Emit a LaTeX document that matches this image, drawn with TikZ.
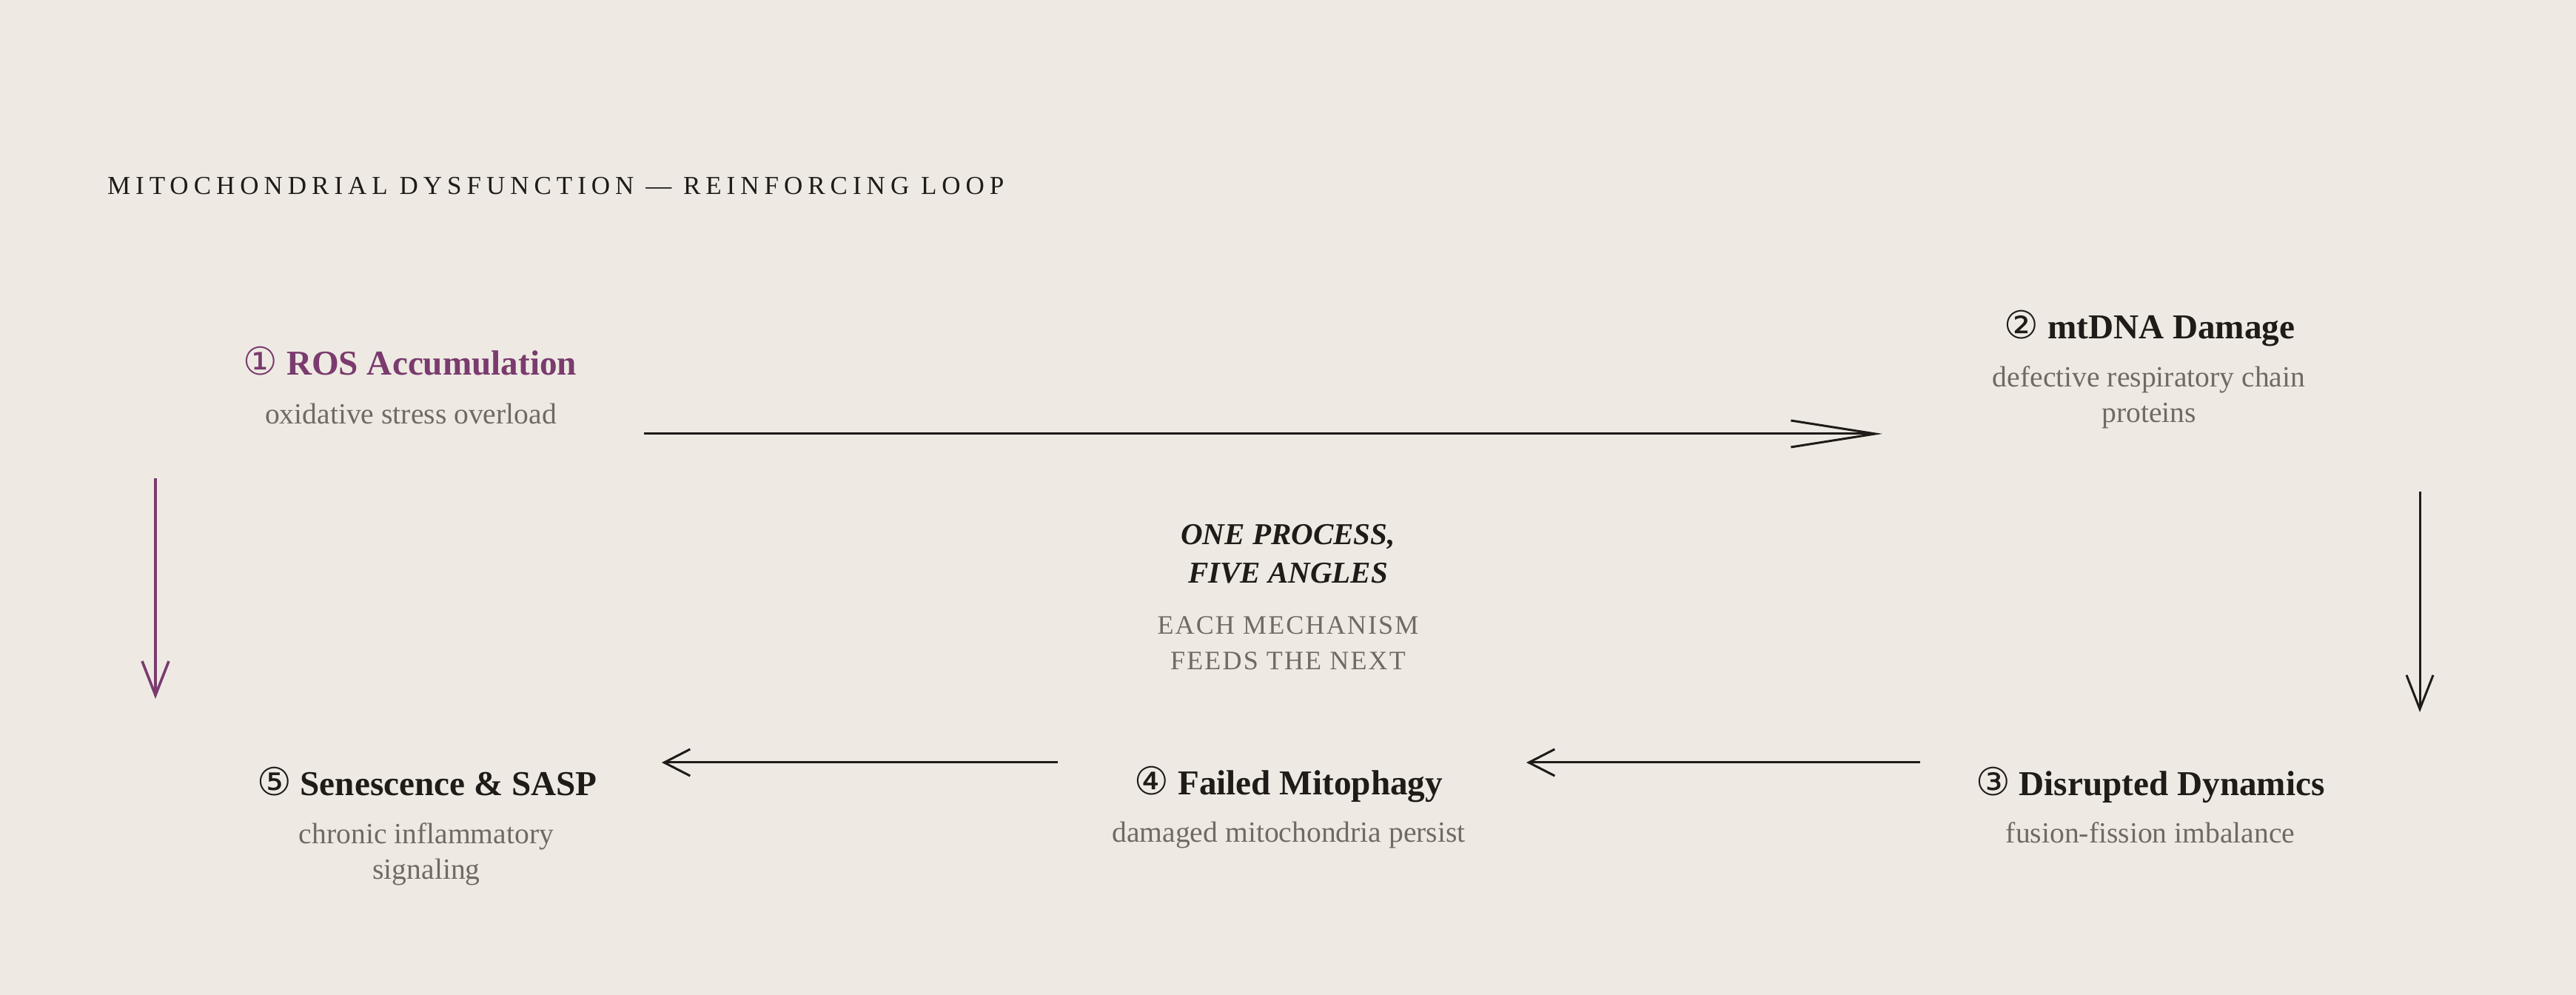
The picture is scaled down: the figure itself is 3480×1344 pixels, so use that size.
\documentclass[tikz,border=0pt]{standalone}
\usepackage{fontspec}
\setmainfont{Liberation Serif}
\newfontfamily\circfont{DejaVu Sans}
\newfontfamily\titlefont[LetterSpace=20]{Liberation Serif}
\newfontfamily\capsfont[LetterSpace=6]{Liberation Serif}
\usetikzlibrary{arrows.meta}
\definecolor{bg}{HTML}{EEEAE3}
\definecolor{ink}{HTML}{1E1B18}
\definecolor{plum}{HTML}{7A3B6E}
\definecolor{muted}{HTML}{6F6A64}
\newcommand\circnum[1]{{\circfont\mdseries\fontsize{13}{14}\selectfont #1}}
\tikzset{
  txt/.style={anchor=base, inner sep=0pt, outer sep=0pt},
  head/.style={txt, font=\fontsize{11.8}{14}\selectfont\bfseries, text=ink},
  desc/.style={txt, font=\fontsize{9.9}{12}\selectfont, text=muted},
  ttl/.style={txt, anchor=base west, font=\titlefont\fontsize{8.75}{10}\selectfont, text=ink},
  bigital/.style={txt, font=\fontsize{10.25}{12}\selectfont\bfseries\itshape, text=ink},
  smallcaps/.style={txt, font=\capsfont\fontsize{9}{11}\selectfont, text=muted},
  conn/.style={draw=ink, line width=0.75pt},
}
\begin{document}
\begin{tikzpicture}[x=0.25pt, y=-0.25pt]
  \fill[bg] (0,0) rectangle (3480,1344);
  \useasboundingbox (0,0) rectangle (3480,1344);

  % title
  \node[ttl] (title) at (145,263) {MITOCHONDRIAL DYSFUNCTION — REINFORCING LOOP};

  % step 1
  \node[head, text=plum] (head1) at (554,507) {\circnum{①} ROS Accumulation};
  \node[desc] (desc1) at (555,573) {oxidative stress overload};

  % step 2
  \node[head] (head2) at (2904,458) {\circnum{②} mtDNA Damage};
  \node[desc] (desc2a) at (2903,523) {defective respiratory chain};
  \node[desc] (desc2b) at (2903,571) {proteins};

  % step 3
  \node[head] (head3) at (2905,1075) {\circnum{③} Disrupted Dynamics};
  \node[desc] (desc3) at (2905,1139) {fusion-fission imbalance};

  % step 4
  \node[head] (head4) at (1741,1074) {\circnum{④} Failed Mitophagy};
  \node[desc] (desc4) at (1741,1138) {damaged mitochondria persist};

  % step 5
  \node[head] (head5) at (577,1075) {\circnum{⑤} Senescence \& SASP};
  \node[desc] (desc5a) at (576,1140) {chronic inflammatory};
  \node[desc] (desc5b) at (576,1188) {signaling};

  % centre
  \node[bigital] (c1) at (1740,736) {ONE PROCESS,};
  \node[bigital] (c2) at (1740,788) {FIVE ANGLES};
  \node[smallcaps] (c3) at (1740,857) {EACH MECHANISM};
  \node[smallcaps] (c4) at (1740,905) {FEEDS THE NEXT};

  % connector ends
  \coordinate (a1s) at (870,586);   \coordinate (a1e) at (2543,586);
  \coordinate (a2s) at (3269,664);  \coordinate (a2e) at (3269,962);
  \coordinate (a3s) at (2594,1030); \coordinate (a3e) at (2062,1030);
  \coordinate (a4s) at (1429,1030); \coordinate (a4e) at (894,1030);
  \coordinate (a5s) at (210,646);   \coordinate (a5e) at (210,944);

  \draw[conn, -{Straight Barb[length=28.5pt, width=9pt]}] (a1s) -- (a1e);
  \draw[conn, -{Straight Barb[length=11.5pt, width=9pt]}] (a2s) -- (a2e);
  \draw[conn, -{Straight Barb[length=8.75pt, width=9pt]}] (a3s) -- (a3e);
  \draw[conn, -{Straight Barb[length=8.75pt, width=9pt]}] (a4s) -- (a4e);
  \draw[conn, draw=plum, line width=0.9pt, -{Straight Barb[length=11.5pt, width=9pt]}] (a5s) -- (a5e);
\end{tikzpicture}
\end{document}
